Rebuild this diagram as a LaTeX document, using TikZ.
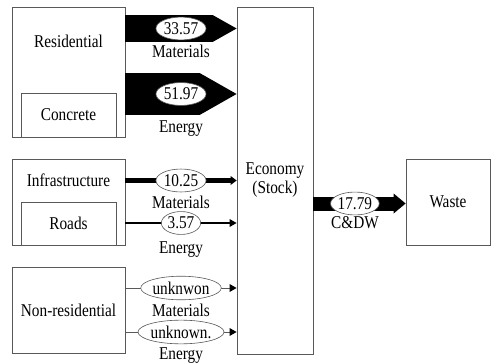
\documentclass[tikz,border=0pt]{standalone}
\usepackage{fontspec}
\setmainfont[FakeStretch=0.85]{Liberation Serif}
\usetikzlibrary{arrows.meta,shapes.geometric}
\newcommand{\flowfont}{\fontsize{18}{19}\selectfont}

\begin{document}
\begin{tikzpicture}[x=1pt, y=-1pt, font=\flowfont,
  box/.style={draw=black!65, line width=0.8pt, inner sep=0pt},
  val/.style={draw=black!65, fill=white, ellipse, line width=0.6pt, inner xsep=0.5pt, inner ysep=2pt},
  txt/.style={inner sep=0pt, anchor=base},
  fatA/.style={line width=27pt, -{Triangle[length=24pt,width=27pt,line width=0pt]}},
  fatB/.style={line width=42pt, -{Triangle[length=37pt,width=42pt,line width=0pt]}},
  fatC/.style={line width=14pt, -{Triangle[length=12pt,width=20pt,line width=0pt]}},
  thk/.style={line width=5pt, -{Triangle[length=6pt,width=9pt,line width=0pt]}},
  med/.style={line width=2pt, -{Triangle[length=7pt,width=8pt,line width=0pt]}},
  thn/.style={draw=black!65, line width=0.8pt, -{Triangle[length=7pt,width=8pt,line width=0pt,color=black]}}]
\useasboundingbox (0,0) rectangle (491,364);
% sources
\node[box, minimum width=113pt, minimum height=130pt] (res) at (68.5,72) {};
\node[box, minimum width=95pt, minimum height=44pt] (conc) at (68.5,115) {Concrete};
\node[box, minimum width=113pt, minimum height=86pt] (infra) at (68.5,202) {};
\node[box, minimum width=95pt, minimum height=43pt] (roads) at (68.5,223.5) {Roads};
\node[box, minimum width=113pt, minimum height=86pt] (nonres) at (68.5,310) {Non-residential};
\node[txt] (reslbl) at (68.5,47) {Residential};
\node[txt] (infralbl) at (68.5,186.5) {Infrastructure};
% stock and waste
\node[box, minimum width=76pt, minimum height=347pt, align=center] (eco) at (275,180.5) {Economy\\(Stock)};
\node[box, minimum width=84pt, minimum height=86pt] (waste) at (448,202) {Waste};
% flow heights
\coordinate (f1) at (0,28.5);
\coordinate (f2) at (0,94);
\coordinate (f3) at (0,180.5);
\coordinate (f4) at (0,223);
\coordinate (f5) at (0,288);
\coordinate (f6) at (0,332);
\coordinate (f7) at (0,203.5);
% flows
\draw[fatA] (res.east |- f1) -- node[val] (v1) {33.57} (eco.west |- f1);
\draw[fatB] (res.east |- f2) -- node[val] (v2) {51.97} (eco.west |- f2);
\draw[thk] (infra.east |- f3) -- node[val] (v3) {10.25} (eco.west |- f3);
\draw[med] (infra.east |- f4) -- node[val] (v4) {3.57} (eco.west |- f4);
\draw[thn] (nonres.east |- f5) -- node[val, inner xsep=0pt] (v5) {unknwon} (eco.west |- f5);
\draw[thn] (nonres.east |- f6) -- node[val, inner xsep=0pt] (v6) {unknown.} (eco.west |- f6);
\draw[fatC] (eco.east |- f7) -- node[val, pos=0.45, inner xsep=0pt] (v7) {17.79} (waste.west |- f7);
% flow names
\foreach \n/\t/\y in {l1/Materials/57.5, l2/Energy/132, l3/Materials/208, l4/Energy/253, l5/Materials/316, l6/Energy/359}
  \node[txt] (\n) at (181,\y) {\t};
\node[txt] (l7) at (355,228) {C\&DW};
\end{tikzpicture}
\end{document}
